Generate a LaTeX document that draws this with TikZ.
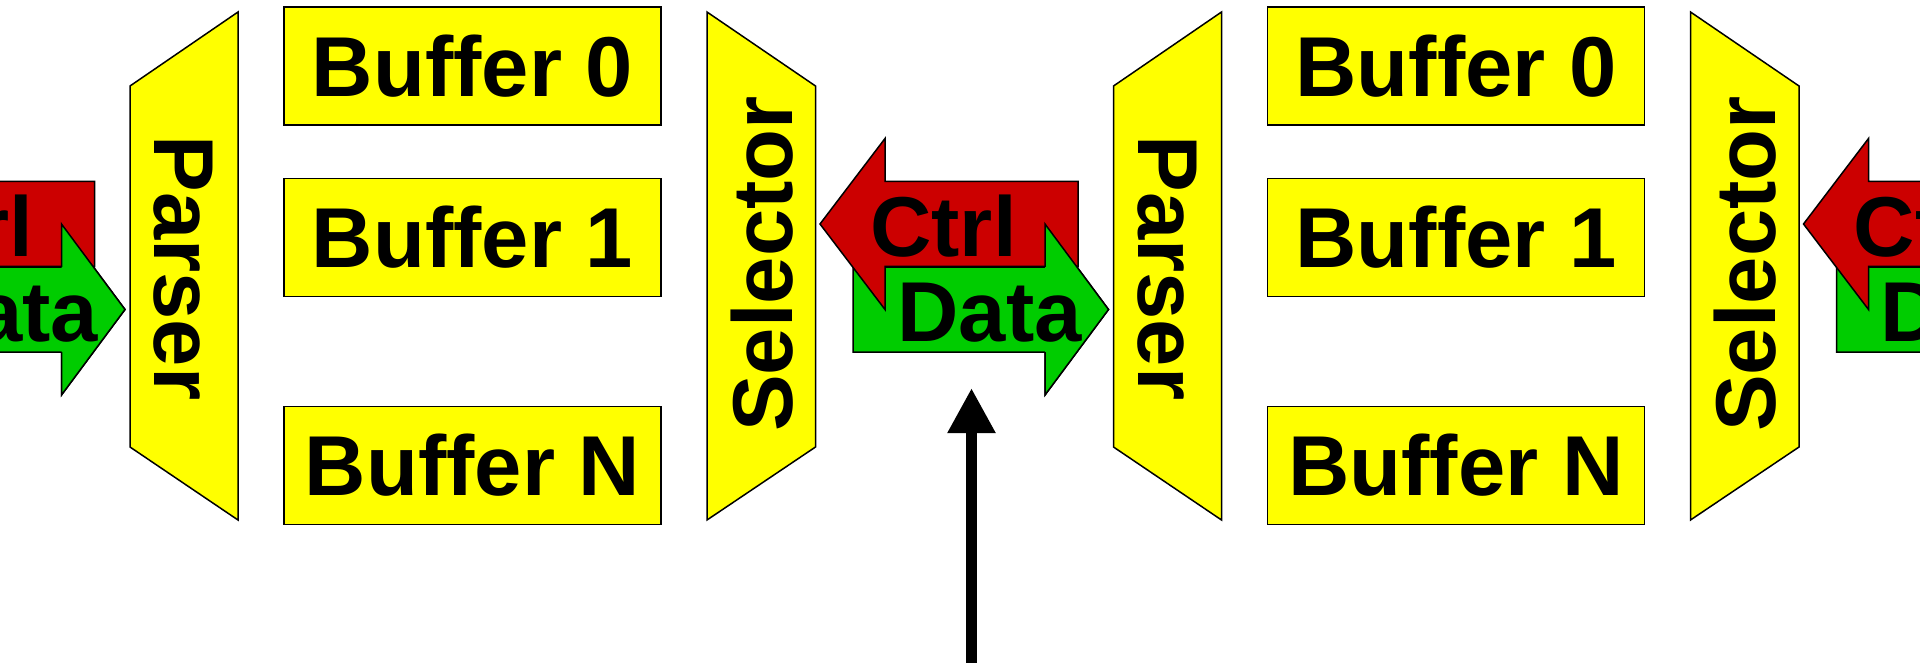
\documentclass[tikz,border=0pt]{standalone}
\usepackage{fontspec}
\setmainfont{Liberation Sans}
\usetikzlibrary{arrows.meta}
\definecolor{blockyellow}{RGB}{255,255,0}
\definecolor{ctrlred}{RGB}{204,0,0}
\definecolor{datagreen}{RGB}{0,204,0}
\tikzstyle{block}=[draw=black, fill=blockyellow, line width=1.5pt]
\tikzstyle{bigtext}=[inner sep=0pt, font=\fontsize{85}{100}\selectfont\bfseries]
\tikzstyle{buffer}=[block, bigtext, rectangle, minimum width=377pt, minimum height=118pt]
\tikzstyle{ctrlarrow}=[draw=black, fill=ctrlred, line width=1.5pt]
\tikzstyle{dataarrow}=[draw=black, fill=datagreen, line width=1.5pt]

\begin{document}
\begin{tikzpicture}[x=1pt, y=-1pt]
    \clip (0, 0) rectangle (1920, 663);
    \fill[white] (0, 0) rectangle (1920, 663);

    % ctrl/data pair coming in from the left
    \begin{scope}[xshift=-983.5pt]
        \draw[dataarrow] (853, 267) -- (1045, 267) -- (1045, 224) -- (1108.5, 309.5)
            -- (1045, 395) -- (1045, 352) -- (853, 352) -- cycle;
        \draw[ctrlarrow] (1078, 181.5) -- (885, 181.5) -- (885, 138.5) -- (820, 224)
            -- (885, 309.5) -- (885, 266.5) -- (1078, 266.5) -- cycle;
        \fill[datagreen] (1045, 224) -- (1108.5, 309.5) -- (1045, 395) -- cycle;
        \draw[line width=1.5pt] (1045, 267) -- (1045, 224) -- (1108.5, 309.5) -- (1045, 395) -- (1045, 352);
        \node[bigtext] (ctrla) at (943.5, 226) {Ctrl};
        \node[bigtext] (dataa) at (989.5, 312.5) {Data};
    \end{scope}

    % first stage
    \draw[block] (130, 86) -- (238, 12) -- (238, 520) -- (130, 447) -- cycle;
    \node[bigtext, rotate=-90] (parsera) at (183.5, 268) {Parser};
    \node[buffer] (bufa0) at (472.5, 66) {Buffer 0};
    \node[buffer] (bufa1) at (472.5, 237.5) {Buffer 1};
    \node[buffer] (bufan) at (472.5, 465.5) {Buffer N};
    \draw[block] (707, 12) -- (815.5, 86) -- (815.5, 447) -- (707, 520) -- cycle;
    \node[bigtext, rotate=90] (selectora) at (762, 264) {Selector};

    % ctrl/data pair between the stages
    \draw[dataarrow] (853, 267) -- (1045, 267) -- (1045, 224) -- (1108.5, 309.5)
        -- (1045, 395) -- (1045, 352) -- (853, 352) -- cycle;
    \draw[ctrlarrow] (1078, 181.5) -- (885, 181.5) -- (885, 138.5) -- (820, 224)
        -- (885, 309.5) -- (885, 266.5) -- (1078, 266.5) -- cycle;
    \fill[datagreen] (1045, 224) -- (1108.5, 309.5) -- (1045, 395) -- cycle;
    \draw[line width=1.5pt] (1045, 267) -- (1045, 224) -- (1108.5, 309.5) -- (1045, 395) -- (1045, 352);
    \node[bigtext] (ctrlb) at (943.5, 226) {Ctrl};
    \node[bigtext] (datab) at (989.5, 312.5) {Data};

    % second stage
    \begin{scope}[xshift=983.5pt]
        \draw[block] (130, 86) -- (238, 12) -- (238, 520) -- (130, 447) -- cycle;
        \node[bigtext, rotate=-90] (parserb) at (183.5, 268) {Parser};
        \node[buffer] (bufb0) at (472.5, 66) {Buffer 0};
        \node[buffer] (bufb1) at (472.5, 237.5) {Buffer 1};
        \node[buffer] (bufbn) at (472.5, 465.5) {Buffer N};
        \draw[block] (707, 12) -- (815.5, 86) -- (815.5, 447) -- (707, 520) -- cycle;
        \node[bigtext, rotate=90] (selectorb) at (762, 264) {Selector};

        % pair going out to the right
        \draw[dataarrow] (853, 267) -- (1045, 267) -- (1045, 224) -- (1108.5, 309.5)
            -- (1045, 395) -- (1045, 352) -- (853, 352) -- cycle;
        \draw[ctrlarrow] (1078, 181.5) -- (885, 181.5) -- (885, 138.5) -- (820, 224)
            -- (885, 309.5) -- (885, 266.5) -- (1078, 266.5) -- cycle;
        \node[bigtext] (ctrlc) at (943.5, 226) {Ctrl};
        \node[bigtext] (datac) at (989.5, 312.5) {Data};
    \end{scope}

    % pointer up to the middle pair
    \coordinate (probe) at (971.5, 700);
    \coordinate (probetip) at (971.5, 388);
    \draw[line width=11.3pt, -{Triangle[width=45pt, length=45pt]}] (probe) -- (probetip);
\end{tikzpicture}
\end{document}
